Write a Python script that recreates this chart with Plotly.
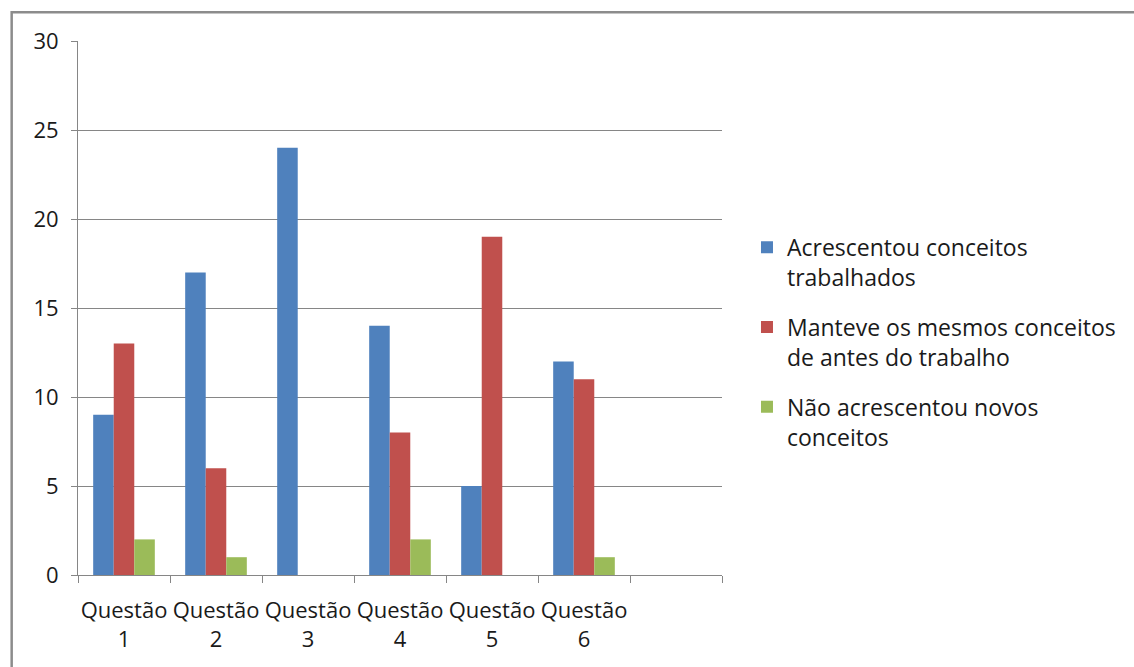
import plotly.graph_objects as go

categories = ["Questão<br>1", "Questão<br>2", "Questão<br>3", "Questão<br>4",
              "Questão<br>5", "Questão<br>6", " "]
acrescentou = [9, 17, 24, 14, 5, 12, None]
manteve = [13, 6, 0, 8, 19, 11, None]
nao_acrescentou = [2, 1, 0, 2, 0, 1, None]

series = [
    ("Acrescentou conceitos<br>trabalhados", acrescentou, "#4F81BD"),
    ("Manteve os mesmos conceitos<br>de antes do trabalho", manteve, "#C0504D"),
    ("Não acrescentou novos<br>conceitos", nao_acrescentou, "#9BBB59"),
]

fig = go.Figure()
for i, (name, vals, color) in enumerate(series):
    fig.add_trace(go.Bar(
        x=categories, y=vals, name=name, marker_color=color,
        marker_line_width=0, legendgroup=f"g{i}",
    ))

font = dict(family="Open Sans, Liberation Sans, sans-serif", size=22, color="#1a1a1a")

fig.update_layout(
    width=1134, height=667,
    margin=dict(l=78, r=412, t=41, b=92, autoexpand=False),
    paper_bgcolor="white", plot_bgcolor="white",
    barmode="group", bargap=0.33, bargroupgap=0,
    font=font,
    showlegend=True,
    legend=dict(
        x=1.0388, y=0.436, xanchor="left", yanchor="middle",
        font=dict(size=23), traceorder="grouped", tracegroupgap=17,
        itemwidth=30, valign="top",
    ),
    xaxis=dict(
        type="category", tickson="boundaries", ticks="outside", ticklen=7,
        tickcolor="#868686", showline=True, linecolor="#868686", linewidth=1,
        showgrid=False, range=[-0.5, 6.5], ticklabelstandoff=16,
        tickangle=0, automargin=False, tickfont=dict(size=22),
    ),
    yaxis=dict(
        range=[0, 30], dtick=5, ticks="outside", ticklen=6, tickcolor="#868686",
        showline=True, linecolor="#868686", linewidth=1,
        showgrid=True, gridcolor="#868686", gridwidth=1, zeroline=False,
        ticklabelstandoff=8, automargin=False,
    ),
    shapes=[dict(
        type="rect", xref="paper", yref="paper",
        x0=-0.103, x1=1.9, y0=-0.3, y1=1.054,
        line=dict(color="#8c8c8c", width=2.5), fillcolor="rgba(0,0,0,0)",
    )],
)

fig.write_html("out.html")
